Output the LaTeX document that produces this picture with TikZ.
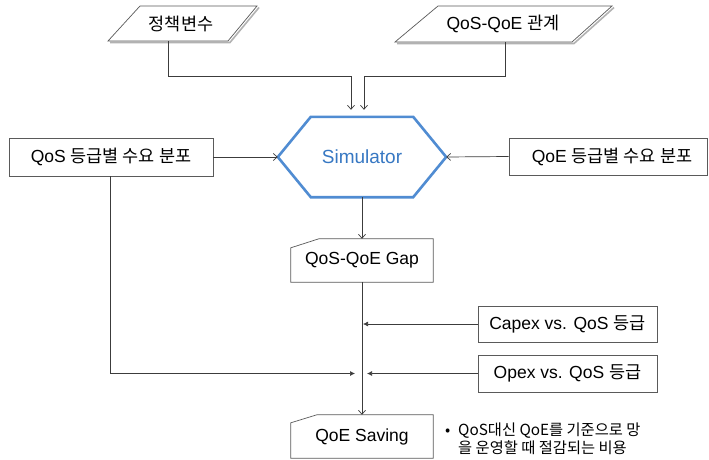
\documentclass[tikz,border=0pt]{standalone}
\usepackage{fontspec}
\setmainfont{Liberation Sans}
\newfontfamily\kr{Noto Sans CJK KR}
\usetikzlibrary{arrows.meta,calc}
\definecolor{hexblue}{RGB}{80,140,210}
\definecolor{simtext}{RGB}{55,120,195}
\definecolor{linegray}{RGB}{60,60,60}
\definecolor{boxgray}{RGB}{90,90,90}
\tikzset{
  conn/.style={draw=linegray, line width=0.7pt},
  openarr/.style={-{Straight Barb[length=4pt,width=7pt,line width=0.7pt]}},
  fillarr/.style={-{Latex[length=5pt,width=5pt]}},
  boxtxt/.style={font=\fontsize{17.5}{20}\selectfont, inner sep=0pt},
  plainbox/.style={boxtxt, draw=boxgray, line width=0.7pt},
  outline/.style={draw=boxgray, line width=0.7pt},
  shadowline/.style={draw=black!30, line width=1.6pt},
}
\begin{document}
\begin{tikzpicture}[x=1pt,y=-1pt]
\useasboundingbox (0,0) rectangle (709,460);
\fill[white] (0,0) rectangle (709,460);

% top parallelograms
\draw[shadowline] (110,42.5) -- (230,42.5) -- (259,7.5);
\draw[outline, fill=white] (108,41) -- (140,6) -- (257,6) -- (228,41) -- cycle;
\node[boxtxt, minimum height=35pt] (p1) at (181,23.5) {\kr 정책변수};

\draw[shadowline] (397,43.5) -- (574,43.5) -- (614,7.5);
\draw[outline, fill=white] (395,42) -- (438,6) -- (612,6) -- (572,42) -- cycle;
\node[boxtxt, minimum height=36pt] (p2) at (503,24) {QoS-QoE {\kr 관계}};

% simulator hexagon
\node[minimum width=168pt, minimum height=80pt, inner sep=0pt] (sim) at (362,157) {};
\draw[hexblue, line width=2.6pt, line join=miter]
  (sim.west) -- ([xshift=33pt]sim.north west) -- ([xshift=-33pt]sim.north east)
  -- (sim.east) -- ([xshift=-33pt]sim.south east) -- ([xshift=33pt]sim.south west) -- cycle;
\node[font=\fontsize{19}{22}\selectfont, text=simtext, inner sep=0pt] (simlabel) at (sim.center) {Simulator};

% side boxes
\node[plainbox, minimum width=204pt, minimum height=38pt] (lb) at (111,157) {QoS {\kr 등급별 수요 분포}};
\node[plainbox, minimum width=198pt, minimum height=37pt] (rb) at (608,156.5) {\hspace*{8pt}QoE {\kr 등급별 수요 분포}};

% gap card
\node[boxtxt, minimum width=142pt, minimum height=43pt] (gap) at (362,260.5) {QoS-QoE Gap};
\draw[outline] (gap.south west) -- ([yshift=-9pt]gap.north west) -- ([xshift=28pt]gap.north west)
  -- (gap.north east) -- (gap.south east) -- cycle;

% cost boxes
\node[plainbox, minimum width=179pt, minimum height=36pt] (capex) at (567.5,324) {Capex vs. QoS {\kr 등급}};
\node[plainbox, minimum width=179pt, minimum height=37pt] (opex) at (567.5,373.5) {Opex vs. QoS {\kr 등급}};

% saving card
\node[boxtxt, minimum width=142pt, minimum height=43pt] (saving) at (362,436.5) {QoE Saving};
\draw[outline] (saving.south west) -- ([yshift=-8pt]saving.north west) -- ([xshift=26pt]saving.north west)
  -- (saving.north east) -- (saving.south east) -- cycle;

% note
\node[anchor=north west, inner sep=0pt, font=\kr\fontsize{15.3}{18}\selectfont, align=left] (note) at (458,422.5)
  {\llap{•\hspace{8pt}}QoS대신 QoE를 기준으로 망\\을 운영할 때 절감되는 비용};

% connectors
\draw[conn, openarr, shorten >=7pt] ([xshift=-13pt]p1.south) -- ++(0,35) -| ([xshift=-11pt]sim.north);
\draw[conn, openarr, shorten >=7pt] ([xshift=2pt]p2.south) -- ++(0,34) -| ([xshift=2pt]sim.north);
\draw[conn, openarr] (lb.east) -- (sim.west);
\draw[conn, openarr] (rb.west) -- (sim.east);
\draw[conn, openarr] (sim.south) -- (gap.north);
\draw[conn, openarr] (gap.south) -- (saving.north);
\draw[conn, fillarr] (capex.west) -- ([xshift=1pt]gap.south |- capex.west);
\draw[conn, fillarr] (opex.west) -- ([xshift=5pt]gap.south |- opex.west);
\draw[conn, fillarr] ([xshift=-1pt]lb.south) |- ([xshift=-7pt]gap.south |- opex.west);
\end{tikzpicture}
\end{document}
